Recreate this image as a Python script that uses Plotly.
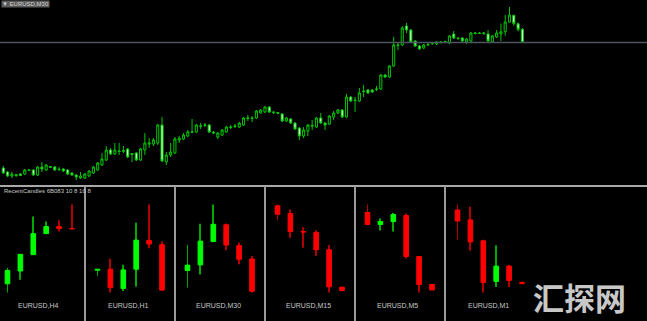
import plotly.graph_objects as go

# ---------------- main chart: EURUSD, M30 ----------------
open_ = [
    1.0832, 1.0828, 1.0824, 1.08245, 1.0826, 1.0826, 1.08295, 1.0830, 1.0825, 1.0833,
    1.0830, 1.08325, 1.0833, 1.0831, 1.0831, 1.0830, 1.0827, 1.0825, 1.0822, 1.0822,
    1.0824, 1.0827, 1.0830, 1.0835, 1.0840, 1.0850, 1.0846, 1.0849, 1.08485, 1.0851,
    1.08455, 1.0847, 1.0840, 1.0850, 1.0856, 1.0856, 1.0857, 1.0875, 1.0838, 1.0845,
    1.0847, 1.0860, 1.0861, 1.0864, 1.08675, 1.0868, 1.08735, 1.08745, 1.0875, 1.0868,
    1.0863, 1.0865, 1.0868, 1.08725, 1.08735, 1.0873, 1.0875, 1.08815, 1.0882, 1.0882,
    1.0887, 1.0888, 1.0893, 1.0888, 1.08865, 1.0886, 1.0879, 1.0881, 1.0877, 1.0872,
    1.0864, 1.0869, 1.08745, 1.0873, 1.0882, 1.0877, 1.0876, 1.0883, 1.0887, 1.0890,
    1.0883, 1.0903, 1.0900, 1.0899, 1.0909, 1.0910, 1.0910, 1.09105, 1.0911, 1.0925,
    1.0923, 1.0934, 1.09545, 1.0955, 1.0974, 1.0970, 1.0959, 1.0954, 1.0952, 1.0955,
    1.09565, 1.0956, 1.09575, 1.0958, 1.0957, 1.0966, 1.0962, 1.0962, 1.0958, 1.0959,
    1.09665, 1.0967, 1.09665, 1.0966, 1.0958, 1.0963, 1.09660, 1.09683, 1.09779, 1.09847,
    1.09762, 1.09707,
]
high = [
    1.0834, 1.0829, 1.0828, 1.0826, 1.0827, 1.0831, 1.0831, 1.0831, 1.0834, 1.0838,
    1.0836, 1.0834, 1.0834, 1.0833, 1.0832, 1.0831, 1.0828, 1.0826, 1.0828, 1.0827,
    1.0830, 1.0834, 1.0838, 1.0847, 1.0854, 1.0852, 1.0857, 1.0857, 1.0854, 1.0852,
    1.0847, 1.0848, 1.0852, 1.0867, 1.0862, 1.0862, 1.0876, 1.0883, 1.0848, 1.0857,
    1.0863, 1.0864, 1.0867, 1.0870, 1.0881, 1.0876, 1.0877, 1.0877, 1.0876, 1.0869,
    1.0868, 1.0871, 1.0874, 1.0875, 1.0876, 1.0878, 1.0883, 1.0885, 1.0884, 1.0890,
    1.0891, 1.0894, 1.0894, 1.0889, 1.0888, 1.0887, 1.0883, 1.0882, 1.0878, 1.0873,
    1.0873, 1.0876, 1.0880, 1.0883, 1.0887, 1.0878, 1.0885, 1.0889, 1.0891, 1.0891,
    1.0906, 1.0904, 1.0903, 1.0912, 1.0915, 1.0911, 1.0911, 1.0914, 1.0926, 1.0926,
    1.0935, 1.0963, 1.0958, 1.0974, 1.0977, 1.0971, 1.0960, 1.0955, 1.0956, 1.0957,
    1.0958, 1.0959, 1.0959, 1.09595, 1.0965, 1.0969, 1.0963, 1.0963, 1.0962, 1.0968,
    1.0968, 1.0968, 1.0968, 1.0970, 1.0965, 1.0970, 1.09764, 1.09851, 1.09930, 1.09852,
    1.09775, 1.09719,
]
low = [
    1.0826, 1.0823, 1.0822, 1.0823, 1.0824, 1.0825, 1.0829, 1.0824, 1.0824, 1.0828,
    1.0829, 1.0832, 1.0829, 1.0829, 1.0828, 1.0825, 1.0824, 1.0820, 1.0821, 1.0821,
    1.0823, 1.0826, 1.0829, 1.0834, 1.0839, 1.0845, 1.0845, 1.0845, 1.0847, 1.0842,
    1.0838, 1.0839, 1.0839, 1.0845, 1.0852, 1.0854, 1.0855, 1.0838, 1.0835, 1.0843,
    1.0846, 1.0857, 1.0860, 1.0863, 1.0867, 1.0867, 1.0871, 1.0873, 1.0867, 1.0866,
    1.0861, 1.0864, 1.0867, 1.0871, 1.0872, 1.0872, 1.0874, 1.0879, 1.0878, 1.0881,
    1.0886, 1.0887, 1.0887, 1.0886, 1.0886, 1.0878, 1.0878, 1.0876, 1.0870, 1.0860,
    1.0862, 1.0864, 1.0870, 1.0872, 1.0876, 1.0870, 1.0875, 1.0880, 1.0886, 1.0882,
    1.0882, 1.0898, 1.0888, 1.0898, 1.0903, 1.0906, 1.0907, 1.0909, 1.0910, 1.0922,
    1.0922, 1.0933, 1.0950, 1.0954, 1.0967, 1.0957, 1.0953, 1.0950, 1.0951, 1.0954,
    1.0955, 1.0955, 1.09565, 1.0957, 1.0956, 1.0961, 1.0960, 1.0958, 1.0956, 1.0958,
    1.09655, 1.0966, 1.0965, 1.0958, 1.0957, 1.0962, 1.09590, 1.09644, 1.09776, 1.09743,
    1.09686, 1.09570,
]
close = [
    1.0827, 1.0824, 1.0826, 1.08255, 1.08245, 1.0830, 1.0830, 1.0825, 1.0833, 1.0831,
    1.0835, 1.08335, 1.0830, 1.08305, 1.0829, 1.0826, 1.0825, 1.0823, 1.0824, 1.0826,
    1.0829, 1.0833, 1.0837, 1.0841, 1.0850, 1.0846, 1.0850, 1.08485, 1.08495, 1.0843,
    1.08465, 1.0840, 1.0851, 1.0857, 1.0857, 1.0860, 1.0875, 1.0839, 1.0845, 1.0848,
    1.0861, 1.0862, 1.0865, 1.0868, 1.0868, 1.0875, 1.0874, 1.0875, 1.0868, 1.0867,
    1.0867, 1.0870, 1.0873, 1.0873, 1.0874, 1.0877, 1.0882, 1.0882, 1.08815, 1.0889,
    1.0890, 1.0893, 1.0888, 1.08875, 1.08875, 1.0879, 1.0882, 1.0877, 1.0871, 1.0864,
    1.0870, 1.0875, 1.0874, 1.0882, 1.0877, 1.0875, 1.0884, 1.0887, 1.0890, 1.0883,
    1.0903, 1.0899, 1.08995, 1.0907, 1.09085, 1.0907, 1.0908, 1.0911, 1.0925, 1.0923,
    1.0934, 1.0955, 1.0955, 1.0972, 1.0970, 1.0958, 1.0954, 1.0951, 1.0955, 1.09555,
    1.0957, 1.0958, 1.0958, 1.09585, 1.0964, 1.0962, 1.09615, 1.0959, 1.0961, 1.0967,
    1.0967, 1.09665, 1.0967, 1.0959, 1.0964, 1.0967, 1.09682, 1.09780, 1.09849, 1.09764,
    1.09706, 1.09575,
]

# ---------------- RecentCandles sub-window ----------------
panel_labels = ["EURUSD,H4", "EURUSD,H1", "EURUSD,M30", "EURUSD,M15", "EURUSD,M5", "EURUSD,M1"]
sub_open = [
    [1.08776, 1.08962, 1.09200, 1.09506, 1.09609, 1.09580],
    [1.09657, 1.09661, 1.09582, 1.09661, 1.09780, 1.09762],
    open_[-6:],
    [1.09845, 1.09820, 1.09763, 1.09760, 1.09705, 1.09586],
    [1.09730, 1.09706, 1.09712, 1.09724, 1.09642, 1.09586],
    [1.09642, 1.09633, 1.09614, 1.09577, 1.09591, 1.09576],
]
sub_high = [
    [1.09010, 1.09210, 1.09755, 1.09682, 1.09701, 1.09930],
    [1.09662, 1.09704, 1.09679, 1.09853, 1.09928, 1.09775],
    high[-6:],
    [1.09849, 1.09833, 1.09777, 1.09767, 1.09720, 1.09586],
    [1.09746, 1.09718, 1.09729, 1.09728, 1.09643, 1.09586],
    [1.09647, 1.09645, 1.09615, 1.09610, 1.09592, 1.09577],
]
sub_low = [
    [1.08649, 1.08835, 1.09195, 1.09500, 1.09536, 1.09565],
    [1.09634, 1.09565, 1.09571, 1.09589, 1.09748, 1.09571],
    low[-6:],
    [1.09799, 1.09743, 1.09711, 1.09686, 1.09569, 1.09575],
    [1.09704, 1.09694, 1.09692, 1.09638, 1.09570, 1.09575],
    [1.09615, 1.09605, 1.09567, 1.09572, 1.09572, 1.09575],
]
sub_close = [
    [1.08971, 1.09204, 1.09506, 1.09609, 1.09580, 1.09575],
    [1.09661, 1.09585, 1.09658, 1.09781, 1.09765, 1.09575],
    close[-6:],
    [1.09818, 1.09763, 1.09761, 1.09705, 1.09587, 1.09575],
    [1.09706, 1.09712, 1.09726, 1.09642, 1.09586, 1.09575],
    [1.09632, 1.09613, 1.09576, 1.09591, 1.09578, 1.09575],
]

W, H = 647, 321
def px(x):
    return x / W
def py(y):
    return 1 - y / H

GREEN = "#00c400"
BEAR_FILL = "#e4ffe4"
BG = "#000000"

fig = go.Figure()
fig.add_trace(go.Candlestick(
    x=list(range(len(close))), open=open_, high=high, low=low, close=close,
    increasing=dict(line=dict(color=GREEN, width=1), fillcolor=BG),
    decreasing=dict(line=dict(color=GREEN, width=1), fillcolor=BEAR_FILL),
    whiskerwidth=0, hoverinfo="skip", showlegend=False,
    xaxis="x", yaxis="y",
))

layout_axes = {}
SPAN = 12.9        # candle spacing inside a panel (px)
FIRST = 12.5       # first candle offset inside a panel (px)
PANEL_W = 90
panel_left = [-5, 85, 175, 265, 355, 445]
sub_top = 187

for p in range(6):
    n = p + 2
    o, h, l, c = sub_open[p], sub_high[p], sub_low[p], sub_close[p]
    idx = list(range(len(o)))
    up = [ci >= oi for oi, ci in zip(o, c)]
    body_col = ["#00ff00" if u else "#ff0000" for u in up]
    wick_col = ["#00a800" if u else "#b00000" for u in up]
    fig.add_trace(go.Bar(
        x=idx, y=[hi - lo for hi, lo in zip(h, l)], base=l, width=1 / SPAN,
        marker=dict(color=wick_col, line=dict(width=0)),
        hoverinfo="skip", showlegend=False, xaxis=f"x{n}", yaxis=f"y{n}",
    ))
    fig.add_trace(go.Bar(
        x=idx, y=[abs(ci - oi) for oi, ci in zip(o, c)], base=[min(oi, ci) for oi, ci in zip(o, c)],
        width=0.36,
        marker=dict(color=body_col, line=dict(color=body_col, width=1)),
        hoverinfo="skip", showlegend=False, xaxis=f"x{n}", yaxis=f"y{n}",
    ))
    left = panel_left[p]
    l0 = max(0, left)
    r0 = min(W, left + PANEL_W)
    hi_v, lo_v = max(h), min(l)
    R = hi_v - lo_v
    layout_axes[f"xaxis{n}"] = dict(
        domain=[px(l0), px(r0)],
        range=[(l0 - left - FIRST) / SPAN, (r0 - left - FIRST) / SPAN],
        visible=False, fixedrange=True, anchor=f"y{n}",
    )
    layout_axes[f"yaxis{n}"] = dict(
        domain=[0, py(sub_top)],
        range=[lo_v - R * 28.5 / 88, hi_v + R * 17.5 / 88],
        visible=False, fixedrange=True, anchor=f"x{n}",
    )

shapes = []
# bid line at last close
shapes.append(dict(type="line", xref="paper", yref="y", x0=0, x1=1, y0=close[-1], y1=close[-1],
                   line=dict(color="#4c5660", width=1.5)))
# sub-window separator
shapes.append(dict(type="line", xref="paper", yref="paper", x0=0, x1=1, y0=py(186), y1=py(186),
                   line=dict(color="#a8a8a8", width=2)))
for xv in panel_left[1:]:
    shapes.append(dict(type="line", xref="paper", yref="paper", x0=px(xv), x1=px(xv),
                       y0=0, y1=py(186), line=dict(color="#9a9a9a", width=2)))

annotations = []
for p, lab in enumerate(panel_labels):
    annotations.append(dict(text=lab, xref="paper", yref="paper", x=px(panel_left[p] + 43), y=py(305),
                            xanchor="center", yanchor="middle", showarrow=False,
                            font=dict(family="Liberation Sans", size=7, color="#c8c8c8")))
annotations.append(dict(text="RecentCandles 6B083 10 8 10 8", xref="paper", yref="paper",
                        x=px(2), y=py(191), xanchor="left", yanchor="middle", showarrow=False,
                        font=dict(family="Liberation Sans", size=6, color="#c8c8c8")))
annotations.append(dict(text="▼ EURUSD,M30", xref="paper", yref="paper",
                        x=px(1), y=py(0.5), xanchor="left", yanchor="top", showarrow=False,
                        font=dict(family="Liberation Sans", size=6, color="#d0d0d0"),
                        bgcolor="#5a5a5a", borderpad=0))
annotations.append(dict(text="<b>汇探网</b>", xref="paper", yref="paper",
                        x=px(579), y=py(296), xanchor="center", yanchor="middle", showarrow=False,
                        font=dict(family="Noto Sans CJK SC", size=31, color="#c8c8c8")))

fig.update_layout(
    width=W, height=H, margin=dict(l=0, r=0, t=0, b=0),
    paper_bgcolor=BG, plot_bgcolor=BG, showlegend=False,
    barmode="overlay",
    xaxis=dict(domain=[0, 1], range=[-0.77, 150.05], visible=False, fixedrange=True,
               rangeslider=dict(visible=False), anchor="y"),
    yaxis=dict(domain=[py(186), 1], range=[1.1 - 186 / 10000, 1.1], visible=False,
               fixedrange=True, anchor="x"),
    shapes=shapes, annotations=annotations,
    **layout_axes,
)

fig.write_html("out.html")
